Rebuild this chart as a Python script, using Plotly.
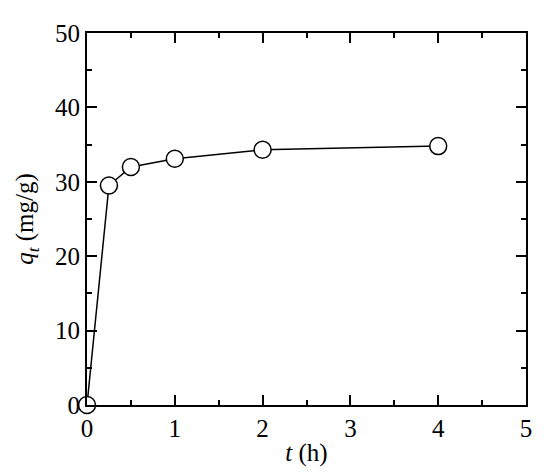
import plotly.graph_objects as go

t_h = [0, 0.25, 0.5, 1, 2, 4]
qt = [0, 29.5, 32.0, 33.1, 34.3, 34.8]

x_ticks = [0, 1, 2, 3, 4, 5]
y_ticks = [0, 10, 20, 30, 40, 50]

fig = go.Figure()
fig.add_trace(go.Scatter(
    x=t_h, y=qt, mode="lines+markers",
    line=dict(color="black", width=1.5),
    marker=dict(size=17, color="white", line=dict(color="black", width=1.5)),
    cliponaxis=False, showlegend=False,
))

font = dict(family="Liberation Serif, Times New Roman, serif", size=25, color="black")
axis_common = dict(
    showline=True, linecolor="black", linewidth=2, mirror="allticks",
    ticks="inside", ticklen=10, tickwidth=2, tickcolor="black",
    showgrid=False, zeroline=False, tickfont=font,
)
fig.update_xaxes(range=[0, 5], tickvals=x_ticks, ticktext=[str(v) for v in x_ticks],
                 minor=dict(ticks="inside", ticklen=5, tickwidth=2, dtick=0.5, tickcolor="black"),
                 title=dict(text="<i>t</i> (h)", font=font, standoff=2), **axis_common)
fig.update_yaxes(range=[0, 50], tickvals=y_ticks, ticktext=[str(v) for v in y_ticks],
                 minor=dict(ticks="inside", ticklen=5, tickwidth=2, dtick=5, tickcolor="black"),
                 title=dict(text="<i>q<sub>t</sub></i> (mg/g)", font=font, standoff=14), **axis_common)
fig.update_layout(
    width=550, height=475, plot_bgcolor="white", paper_bgcolor="white",
    margin=dict(l=79, r=32, t=22, b=78), font=font,
)
fig.write_html("out.html")
